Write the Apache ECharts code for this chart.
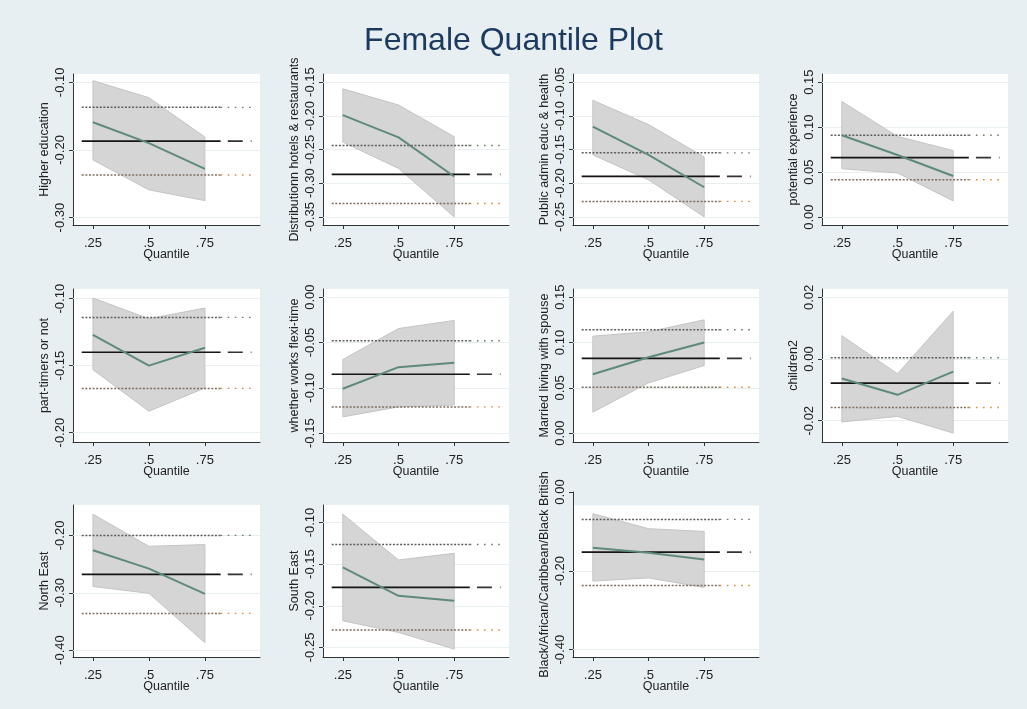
<!DOCTYPE html>
<html>
<head>
<meta charset="utf-8">
<script src="https://cdn.jsdelivr.net/npm/echarts@6/dist/echarts.min.js"></script>
<style>
html,body{margin:0;padding:0;background:#e8eff2;}
#chart{width:1027px;height:709px;}
</style>
</head>
<body>
<div id="chart"></div>
<script>
// ---------------- data ----------------
const titleText = 'Female Quantile Plot';
const varNames = [
  'Higher education',
  'Distributionn hotels & restaurants',
  'Public admin educ & health',
  'potential experience',
  'part-timers or not',
  'whether works flexi-time',
  'Married living with spouse',
  'children2',
  'North East',
  'South East',
  'Black/African/Caribbean/Black British'
];
const quantiles = [0.25, 0.5, 0.75];
const xTickLabels = ['.25', '.5', '.75'];
const xAxisTitle = 'Quantile';

// quantile regression estimates at .25 / .5 / .75
const qEstimate = [
  [-0.159, -0.190, -0.228],
  [-0.199, -0.232, -0.290],
  [-0.116, -0.158, -0.206],
  [0.091, 0.069, 0.0456],
  [-0.127, -0.150, -0.1366],
  [-0.101, -0.0772, -0.0724],
  [0.065, 0.0838, 0.100],
  [-0.0063, -0.0116, -0.0041],
  [-0.226, -0.258, -0.302],
  [-0.154, -0.188, -0.194],
  [-0.1415, -0.154, -0.171]
];
const qUpper = [
  [-0.0975, -0.1227, -0.181],
  [-0.160, -0.184, -0.231],
  [-0.077, -0.113, -0.161],
  [0.1285, 0.0896, 0.074],
  [-0.0995, -0.115, -0.107],
  [-0.0688, -0.0346, -0.0257],
  [0.107, 0.1118, 0.125],
  [0.00757, -0.00476, 0.0155],
  [-0.163, -0.219, -0.216],
  [-0.090, -0.145, -0.137],
  [-0.055, -0.093, -0.100]
];
const qLower = [
  [-0.2148, -0.259, -0.275],
  [-0.239, -0.278, -0.350],
  [-0.158, -0.195, -0.250],
  [0.0537, 0.049, 0.018],
  [-0.153, -0.184, -0.1667],
  [-0.132, -0.121, -0.119],
  [0.0232, 0.0555, 0.0746],
  [-0.0204, -0.0186, -0.024],
  [-0.289, -0.301, -0.387],
  [-0.218, -0.232, -0.252],
  [-0.226, -0.218, -0.242]
];
// OLS estimate and its confidence bounds
const olsCoef  = [-0.187, -0.287, -0.190, 0.066, -0.140, -0.085, 0.0824, -0.0078, -0.268, -0.178, -0.1525];
const olsUpper = [-0.137, -0.244, -0.155, 0.091, -0.114, -0.048, 0.114, 0.0004, -0.200, -0.1264, -0.0695];
const olsLower = [-0.237, -0.330, -0.227, 0.0415, -0.167, -0.121, 0.0507, -0.0157, -0.336, -0.229, -0.2373];

// y tick values per panel
const yTicks = [
  [-0.10, -0.20, -0.30],
  [-0.15, -0.20, -0.25, -0.30, -0.35],
  [-0.05, -0.10, -0.15, -0.20, -0.25],
  [0.15, 0.10, 0.05, 0.00],
  [-0.10, -0.15, -0.20],
  [0.00, -0.05, -0.10, -0.15],
  [0.15, 0.10, 0.05, 0.00],
  [0.02, 0.00, -0.02],
  [-0.20, -0.30, -0.40],
  [-0.10, -0.15, -0.20, -0.25],
  [0.00, -0.20, -0.40]
];
// axis ranges
const yMax = [-0.0877, -0.138, -0.038, 0.159, -0.0928, 0.009, 0.159, 0.0227, -0.147, -0.079, 0.0];
const yMin = [-0.311, -0.362, -0.262, -0.0088, -0.207, -0.1597, -0.0097, -0.0269, -0.412, -0.2615, -0.4185];
const plotTopValue11 = -0.034;

// ---------------- layout ----------------
const colLeft = [73, 323, 573, 822];
const colWidth = [187, 186, 186, 186];
const rowTop = [74, 289, 505];
const rowHeight = [151, 153, 152];
const X_MIN = 0.161, X_MAX = 0.996;
const REF_START = 0.2, REF_MID = 0.82, REF_DASH_START = 0.852, REF_END = 0.958;

const FONT = '"Liberation Sans", Arial, sans-serif';
const TXT = '#222';
const AX = '#333';

const grids = [], xAxes = [], yAxes = [], series = [];

varNames.forEach((nm, i) => {
  const r = Math.floor(i / 4), c = i % 4;
  let top = rowTop[r], height = rowHeight[r];
  const isLast = (i === 10);
  if (isLast) { top = 492; height = 165; }
  grids.push({
    left: colLeft[c], top: top, width: colWidth[c], height: height,
    show: !isLast, backgroundColor: '#ffffff', borderWidth: 0
  });
  xAxes.push({
    type: 'value', gridIndex: i, min: X_MIN, max: X_MAX,
    name: xAxisTitle, nameLocation: 'middle', nameGap: 23, nameMoveOverlap: false,
    nameTextStyle: { fontSize: 12.5, color: TXT, fontFamily: FONT },
    axisLine: { show: true, onZero: false, lineStyle: { color: AX, width: 1 } },
    axisTick: { show: true, length: 4, customValues: quantiles, lineStyle: { color: AX } },
    axisLabel: {
      customValues: quantiles, fontSize: 13, color: TXT, fontFamily: FONT, margin: 12,
      formatter: v => { const k = quantiles.findIndex(q => Math.abs(q - v) < 1e-9); return k >= 0 ? xTickLabels[k] : ''; }
    },
    splitLine: { show: false }
  });
  yAxes.push({
    type: 'value', gridIndex: i, min: yMin[i], max: yMax[i],
    name: nm, nameLocation: 'middle', nameRotate: 90, nameGap: 22,
    nameTextStyle: { fontSize: 12.5, color: TXT, fontFamily: FONT },
    axisLine: { show: true, onZero: false, lineStyle: { color: AX, width: 1 } },
    axisTick: { show: true, length: 4, customValues: yTicks[i], lineStyle: { color: AX } },
    axisLabel: {
      customValues: yTicks[i], rotate: 90, fontSize: 13, color: TXT, fontFamily: FONT, margin: 6,
      formatter: v => v.toFixed(2)
    },
    splitLine: { show: false }
  });

  // white plot region for last panel (axis extends above it)
  if (isLast) {
    series.push({
      type: 'line', xAxisIndex: i, yAxisIndex: i, data: [], z: 0, silent: true,
      markArea: { silent: true, z: 0, itemStyle: { color: '#ffffff' }, data: [[{ yAxis: plotTopValue11 }, { yAxis: yMin[i] }]] }
    });
  }
  // gridlines
  series.push({
    type: 'line', xAxisIndex: i, yAxisIndex: i, data: [], z: 1, silent: true,
    markLine: {
      silent: true, z: 1, symbol: 'none', label: { show: false },
      lineStyle: { color: '#e7eff1', type: 'solid', width: 1.2 },
      data: yTicks[i].filter(v => !(isLast && v > plotTopValue11)).map(v => ({ yAxis: v }))
    }
  });
  // confidence band of quantile estimates
  series.push({
    type: 'custom', xAxisIndex: i, yAxisIndex: i, z: 2, silent: true,
    data: quantiles.map((q, k) => [q, qLower[i][k], qUpper[i][k]]),
    renderItem: (params, api) => {
      if (params.dataIndex !== 0) return null;
      const pts = [];
      quantiles.forEach((q, k) => pts.push(api.coord([q, qUpper[i][k]])));
      for (let k = quantiles.length - 1; k >= 0; k--) pts.push(api.coord([quantiles[k], qLower[i][k]]));
      return { type: 'polygon', shape: { points: pts }, style: { fill: '#d5d5d5', stroke: '#c4c4c4', lineWidth: 1 } };
    }
  });
  // OLS bounds (dotted)
  const dotted = (val, colDense, colSparse) => {
    series.push({
      type: 'line', xAxisIndex: i, yAxisIndex: i, z: 3, silent: true, showSymbol: false,
      data: [[REF_START, val], [REF_MID, val]],
      lineStyle: { color: colDense, width: 1.5, type: [2, 1.6] }
    });
    series.push({
      type: 'line', xAxisIndex: i, yAxisIndex: i, z: 3, silent: true, showSymbol: false,
      data: [[REF_MID, val], [REF_END, val]],
      lineStyle: { color: colSparse, width: 1.4, type: [1.6, 5.5] }
    });
  };
  dotted(olsUpper[i], '#5e5e5e', '#6f7d66');
  dotted(olsLower[i], '#7d6f5f', '#d0913f');
  // OLS estimate
  series.push({
    type: 'line', xAxisIndex: i, yAxisIndex: i, z: 4, silent: true, showSymbol: false,
    data: [[REF_START, olsCoef[i]], [REF_MID, olsCoef[i]]],
    lineStyle: { color: '#141414', width: 1.7, type: 'solid' }
  });
  series.push({
    type: 'line', xAxisIndex: i, yAxisIndex: i, z: 4, silent: true, showSymbol: false,
    data: [[REF_DASH_START, olsCoef[i]], [REF_END, olsCoef[i]]],
    lineStyle: { color: '#333333', width: 1.7, type: [15, 8] }
  });
  // quantile estimates
  series.push({
    type: 'line', xAxisIndex: i, yAxisIndex: i, z: 5, silent: true, showSymbol: false,
    data: quantiles.map((q, k) => [q, qEstimate[i][k]]),
    lineStyle: { color: '#5f8a79', width: 2 }
  });
});

const chart = echarts.init(document.getElementById('chart'), null, { renderer: 'canvas' });
chart.setOption({
  backgroundColor: '#e8eff2',
  animation: false,
  title: {
    text: titleText, left: 'center', top: 20,
    textStyle: { fontSize: 32, fontWeight: 'normal', color: '#1c3a5e', fontFamily: FONT }
  },
  grid: grids,
  xAxis: xAxes,
  yAxis: yAxes,
  series: series
});
</script>
</body>
</html>
